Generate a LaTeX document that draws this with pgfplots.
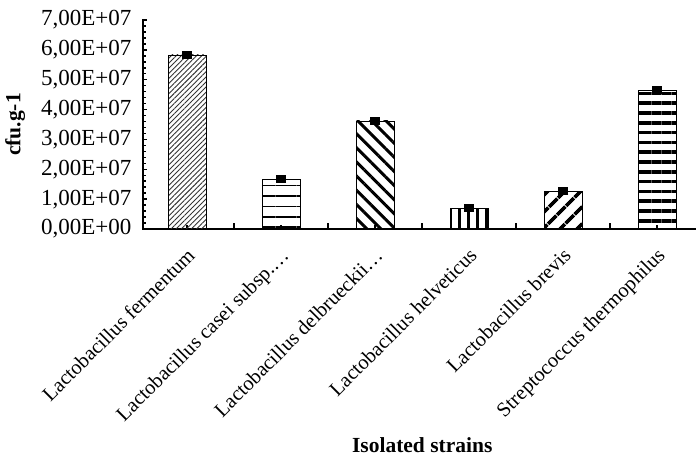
\documentclass[border=0pt]{standalone}
\usepackage{fontspec}
\setmainfont{Liberation Serif}
\usepackage{pgfplots}
\pgfplotsset{compat=1.18}
\usetikzlibrary{patterns.meta}
\begin{document}
\begin{tikzpicture}
\begin{axis}[
  scale only axis, width=553pt, height=209pt,
  xmin=-0.47, xmax=5.41,
  ymin=0, ymax=7e7,
  axis lines*=left,
  axis line style={line width=2.5pt, line cap=rect},
  ybar, bar width=0.4, bar shift=0pt,
  ytick={0,1e7,2e7,3e7,4e7,5e7,6e7,7e7},
  yticklabels={{0,00E+00},{1,00E+07},{2,00E+07},{3,00E+07},{4,00E+07},{5,00E+07},{6,00E+07},{7,00E+07}},
  scaled y ticks=false,
  minor y tick num=4,
  tick align=inside,
  major tick length=4pt, minor tick length=3pt,
  every tick/.style={black, line width=1.5pt},
  yticklabel style={font=\fontsize{23}{27}\selectfont, xshift=-8pt},
  xtick={0,1,2,3,4,5},
  xticklabels={Lactobacillus fermentum, Lactobacillus casei subsp.…, Lactobacillus delbrueckii…, Lactobacillus helveticus, Lactobacillus brevis, Streptococcus thermophilus},
  xticklabel style={font=\fontsize{20.5}{24}\selectfont, rotate=45, anchor=north east, xshift=-10pt, yshift=-8pt},
  x tick style={black, line width=2pt},
  extra x ticks={0.5,1.5,2.5,3.5,4.5},
  extra x tick labels={},
  extra x tick style={major tick length=6pt, tick style={line width=2.5pt}},
  xlabel={\textbf{Isolated strains}},
  xlabel style={font=\fontsize{21.5}{25}\selectfont, at={(axis description cs:0.505,-1.032)}, anchor=center},
  ylabel={\textbf{cfu.g-1}},
  ylabel style={font=\fontsize{21.5}{25}\selectfont, at={(axis description cs:-0.231,0.5)}, anchor=center},
  error bars/y dir=both, error bars/y explicit,
  error bars/error mark=|,
  error bars/error mark options={line width=4pt, mark size=5pt, black},
  error bars/error bar style={line width=1.5pt, black},
  clip=false,
]
\addplot[draw=black, line width=0.6pt, pattern={Lines[angle=45,distance=3.6pt,line width=0.9pt]}, pattern color=black!80]
  coordinates {(0,58300000) +- (0,600000)};
\addplot[draw=black, line width=0.6pt, pattern={Lines[angle=0,distance=10.4pt,line width=1.6pt]}]
  coordinates {(1,16700000) +- (0,600000)};
\addplot[draw=black, line width=0.6pt, pattern={Lines[angle=-45,distance=10pt,line width=3pt]}]
  coordinates {(2,36200000) +- (0,600000)};
\addplot[draw=black, line width=0.6pt, pattern={Lines[angle=90,distance=9pt,line width=3pt]}]
  coordinates {(3,7000000) +- (0,600000)};
\addplot[draw=black, line width=0.6pt, pattern={Lines[angle=45,distance=13pt,line width=4pt]}]
  coordinates {(4,12700000) +- (0,600000)};
\addplot[draw=black, line width=0.6pt, pattern={Lines[angle=0,distance=9.8pt,line width=3.6pt]}]
  coordinates {(5,46600000) +- (0,600000)};
\coordinate (bl) at (rel axis cs:0,0);
\coordinate (tr) at (rel axis cs:1,1);
\end{axis}
\pgfresetboundingbox
\path (bl) ++(-143pt,-227pt) coordinate (a);
\path (tr) ++(0pt,20pt) coordinate (b);
\useasboundingbox (a) rectangle (b);
\end{tikzpicture}
\end{document}
